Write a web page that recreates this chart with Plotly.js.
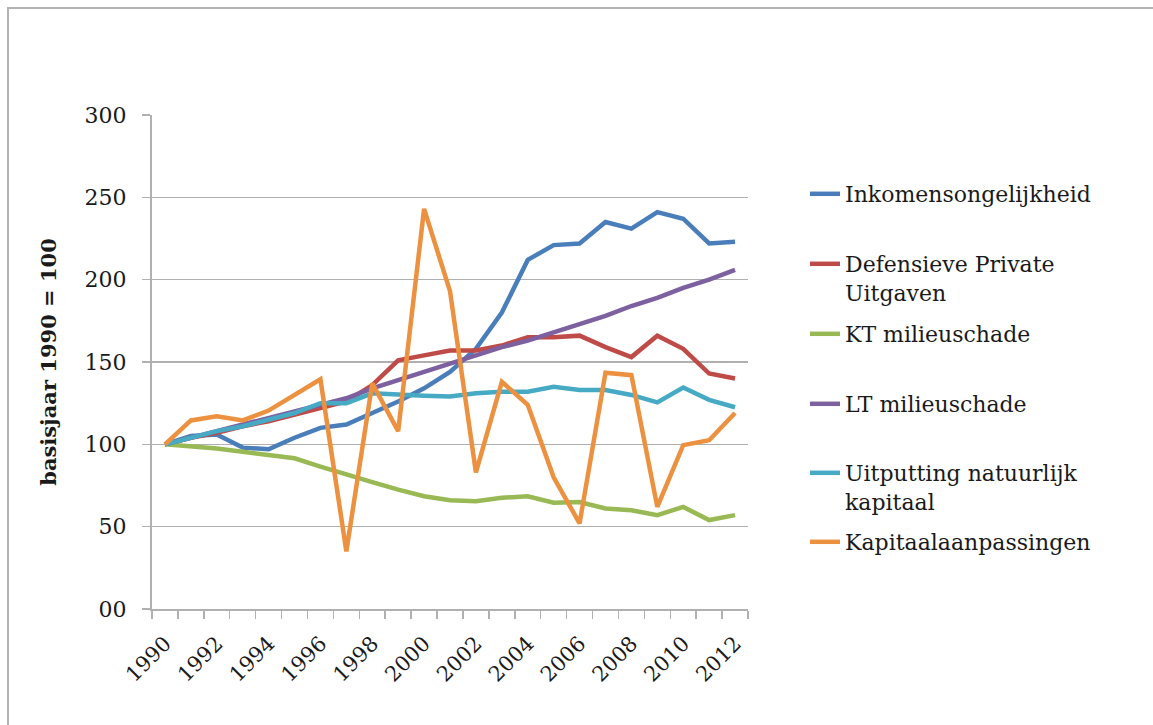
<!DOCTYPE html>
<html>
<head>
<meta charset="utf-8">
<script src="https://cdn.plot.ly/plotly-3.0.1.min.js"></script>
<style>
  html, body { margin: 0; padding: 0; background: #fff; }
  #wrap { position: relative; width: 1153px; height: 725px; overflow: hidden; }
  #plot { position: absolute; left: 0; top: 0; width: 1153px; height: 725px; }
  #frame { position: absolute; left: 7px; top: 7px; width: 1160px; height: 730px;
           border-left: 2px solid #b3b3b3; border-top: 2px solid #b3b3b3; pointer-events: none; }
</style>
</head>
<body>
<div id="wrap">
  <div id="plot"></div>
  <div id="frame"></div>
</div>
<script>
// jaren 1990 - 2012
const years = [1990, 1991, 1992, 1993, 1994, 1995, 1996, 1997, 1998, 1999, 2000, 2001,
               2002, 2003, 2004, 2005, 2006, 2007, 2008, 2009, 2010, 2011, 2012];

// waarden (basisjaar 1990 = 100)
const inkomensongelijkheid = [100, 105, 106, 98, 97, 104, 110, 112, 119, 126, 134, 144,
                              158, 180, 212, 221, 222, 235, 231, 241, 237, 222, 223];
const defensievePrivate = [100, 104, 107, 111, 114, 118, 122, 126, 136, 151, 154, 157,
                           157, 160, 165, 165, 166, 159, 153, 166, 158, 143, 140];
const ktMilieuschade = [100, 99, 97.5, 95.5, 93.5, 91.5, 86.5, 81.5, 77, 72.5, 68.5, 66,
                        65.5, 67.5, 68.5, 64.5, 65, 61, 60, 57, 62, 54, 57];
const ltMilieuschade = [100, 104, 108, 112, 116, 120, 124, 128, 134, 139, 144, 149,
                        154, 159, 163, 168, 173, 178, 184, 189, 195, 200, 206];
const uitputting = [100, 104, 108, 111, 115, 119, 125, 125, 131, 130, 129.5, 129,
                    131, 132, 132, 135, 133, 133, 130, 125.5, 134.5, 127, 122.5];
const kapitaalaanpassingen = [100, 114.5, 117, 114.5, 120.5, 130, 139.5, 35, 137, 108, 243, 193,
                              83, 138, 124, 80, 52, 143.5, 142, 62, 99.5, 102.5, 119];

const seriesNames = ["Inkomensongelijkheid", "Defensieve Private<br>Uitgaven", "KT milieuschade",
                     "LT milieuschade", "Uitputting natuurlijk<br>kapitaal", "Kapitaalaanpassingen"];
const seriesValues = [inkomensongelijkheid, defensievePrivate, ktMilieuschade,
                      ltMilieuschade, uitputting, kapitaalaanpassingen];
const seriesColors = ["#4a7ebb", "#be4b48", "#98b954", "#7d60a0", "#46aac5", "#ec9140"];

const yTickVals = [0, 50, 100, 150, 200, 250, 300];
const yTickText = ["00", "50", "100", "150", "200", "250", "300"];
const xTickVals = years.filter(y => y % 2 === 0);

const FONT = "'DejaVu Serif', 'Liberation Serif', serif";
const gridColor = "#b0b0b0";

// plotgebied in pixels
const plotTop = 115, plotBottom = 609, plotLeft = 152, plotRight = 748;
const legendCenters = [193, 263, 333, 403, 472, 541];
const legendKeys = ["legend", "legend2", "legend3", "legend4", "legend5", "legend6"];

let data = seriesValues.map((vals, i) => ({
    x: years,
    y: vals,
    mode: "lines",
    name: seriesNames[i],
    line: { color: seriesColors[i], width: 4.5 },
    legend: legendKeys[i],
    hoverinfo: "x+y+name"
}));

let layout = {
    width: 1153,
    height: 725,
    margin: { l: plotLeft, r: 1153 - plotRight, t: plotTop, b: 725 - plotBottom, pad: 0 },
    paper_bgcolor: "#fff",
    plot_bgcolor: "#fff",
    font: { family: FONT, size: 22, color: "#1a1a1a" },
    showlegend: true,
    xaxis: {
        range: [years[0] - 0.5, years[years.length - 1] + 0.5],
        tickmode: "array",
        tickvals: xTickVals,
        ticktext: xTickVals.map(String),
        tickangle: -45,
        ticks: "",
        ticklabelstandoff: 12,
        showgrid: false,
        zeroline: false,
        showline: true,
        linecolor: gridColor,
        linewidth: 2,
        minor: { tick0: years[0] - 0.5, dtick: 1, ticks: "outside", ticklen: 8, tickwidth: 1.5, tickcolor: gridColor, showgrid: false },
        tickfont: { family: FONT, size: 21, color: "#1a1a1a" },
        fixedrange: true
    },
    yaxis: {
        range: [0, 300],
        tickmode: "array",
        tickvals: yTickVals,
        ticktext: yTickText,
        ticks: "outside",
        ticklen: 8,
        tickwidth: 1.5,
        tickcolor: gridColor,
        ticklabelstandoff: 11,
        showgrid: true,
        gridcolor: gridColor,
        gridwidth: 1.5,
        zeroline: false,
        showline: true,
        linecolor: gridColor,
        linewidth: 2,
        tickfont: { family: FONT, size: 22, color: "#1a1a1a" },
        title: {
            text: "<b>basisjaar 1990 = 100</b>",
            font: { family: FONT, size: 21, color: "#1a1a1a" },
            standoff: 22
        },
        fixedrange: true
    }
};

// een legenda per reeks, zodat de regelafstand gelijk is aan het origineel
legendKeys.forEach((key, i) => {
    layout[key] = {
        x: (805 - plotLeft) / (plotRight - plotLeft),
        xanchor: "left",
        y: (plotBottom - (legendCenters[i] - 20)) / (plotBottom - plotTop),
        yanchor: "top",
        valign: "top",
        bgcolor: "rgba(0,0,0,0)",
        borderwidth: 0,
        font: { family: FONT, size: 22, color: "#1a1a1a" }
    };
});

let config = { staticPlot: true };

window.addEventListener("load", () => {
    Plotly.newPlot("plot", data, layout, config);
});
</script>
</body>
</html>
